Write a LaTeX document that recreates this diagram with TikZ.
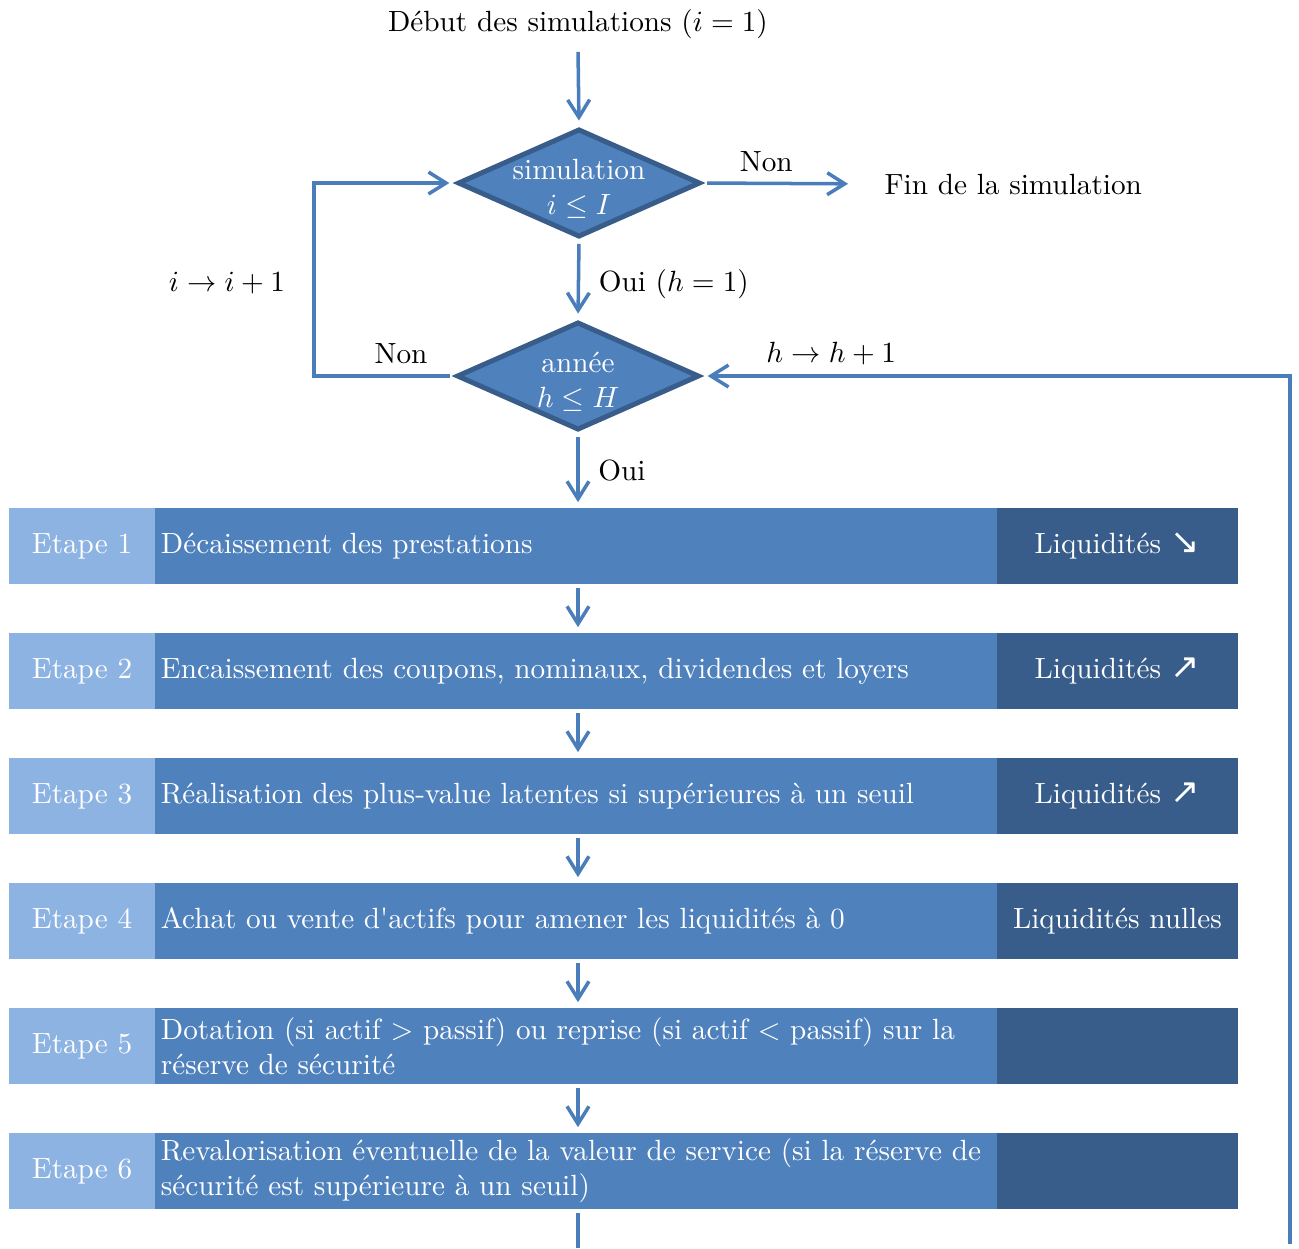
\documentclass[tikz,border=0pt]{standalone}
\usepackage{amssymb}
\usepackage{fontspec}
\newfontfamily\flechefont{DejaVu Sans}
\usetikzlibrary{shapes.geometric,arrows.meta}
\definecolor{etapebleu}{HTML}{8DB3E2}
\definecolor{corpsbleu}{HTML}{4F81BD}
\definecolor{foncebleu}{HTML}{385D8A}
\definecolor{lienbleu}{HTML}{4A7EBB}
\newcommand{\baisse}{{\flechefont\large ↘}}
\newcommand{\hausse}{{\flechefont\large ↗}}
\tikzset{
  lien/.style={draw=lienbleu,line width=1.2pt},
  fleche/.style={lien,-{Straight Barb[length=6pt,width=7.5pt,line width=1.2pt]},shorten <=1.5pt,shorten >=2pt},
  decision/.style={diamond,draw=foncebleu,fill=corpsbleu,line width=1.7pt,minimum width=83pt,minimum height=37pt,inner sep=0pt},
  dectexte/.style={text=white,align=center,yshift=-2pt},
  etape/.style={fill=etapebleu,text=white,minimum width=50pt,minimum height=26pt,inner sep=0pt,outer sep=0pt},
  corps/.style={fill=corpsbleu,text=white,minimum height=26pt,inner xsep=2pt,inner ysep=0pt,outer sep=0pt,text width=284pt,align=left,anchor=west},
  bilan/.style={fill=foncebleu,text=white,minimum width=82.2pt,minimum height=26pt,inner sep=0pt,outer sep=0pt,anchor=west},
}
\begin{document}
\begin{tikzpicture}[x=0.342pt,y=-0.342pt]
  \useasboundingbox (0,0) rectangle (1299,1248);
  % haut : les deux tests
  \node (debut) at (578,24) {D\'ebut des simulations ($i=1$)};
  \node[decision] (sim) at (579,183) {};
  \node[dectexte] at (sim) {simulation\\$i\leq I$};
  \node[decision] (an) at (578,376) {};
  \node[dectexte] at (an) {ann\'ee\\$h\leq H$};
  \node[anchor=west,inner sep=0pt] (fin) at (884,184) {Fin de la simulation};
  \coordinate (boucle) at (314,283);
  \coordinate (retour) at (1290,1248);
  \coordinate (sortie) at (578,1248);

  \draw[fleche,shorten <=1pt] (debut.south) -- (sim.north);
  \draw[fleche,shorten >=12.3pt] (sim.east) -- (fin.west) node[pos=0.35,above] {Non};
  \draw[fleche] (sim.south) -- (an.north) node[midway,right,xshift=3pt,yshift=-1.5pt] {Oui ($h=1$)};
  \draw[fleche] (an.west) -| (boucle) node[left,xshift=-6pt] {$i\rightarrow i+1$} |- (sim.west);
  \node at (401,354) {Non};
  \draw[fleche] (retour) |- (an.east) node[pos=0.89,above] {$h\rightarrow h+1$};

  % les six etapes
  \node[etape] (e1) at (82,546) {Etape 1};
  \node[corps] (c1) at (e1.east) {D\'ecaissement des prestations};
  \node[bilan] (b1) at (c1.east) {Liquidit\'es \baisse};
  \node[etape] (e2) at (82,671) {Etape 2};
  \node[corps] (c2) at (e2.east) {Encaissement des coupons, nominaux, dividendes et loyers};
  \node[bilan] (b2) at (c2.east) {Liquidit\'es \hausse};
  \node[etape] (e3) at (82,796) {Etape 3};
  \node[corps] (c3) at (e3.east) {R\'ealisation des plus-value latentes si sup\'erieures \`a un seuil};
  \node[bilan] (b3) at (c3.east) {Liquidit\'es \hausse};
  \node[etape] (e4) at (82,921) {Etape 4};
  \node[corps] (c4) at (e4.east) {Achat ou vente d\textquotesingle actifs pour amener les liquidit\'es \`a 0};
  \node[bilan] (b4) at (c4.east) {Liquidit\'es nulles};
  \node[etape] (e5) at (82,1046) {Etape 5};
  \node[corps] (c5) at (e5.east) {Dotation (si actif $>$ passif) ou reprise (si actif $<$ passif) sur la\\r\'eserve de s\'ecurit\'e};
  \node[bilan] (b5) at (c5.east) {};
  \node[etape] (e6) at (82,1171) {Etape 6};
  \node[corps] (c6) at (e6.east) {Revalorisation \'eventuelle de la valeur de service (si la r\'eserve de\\s\'ecurit\'e est sup\'erieure \`a un seuil)};
  \node[bilan] (b6) at (c6.east) {};

  \draw[fleche] (an.south) -- (c1.north -| an) node[midway,right,xshift=3pt] {Oui};
  \draw[fleche] (c1.south -| an) -- (c2.north -| an);
  \draw[fleche] (c2.south -| an) -- (c3.north -| an);
  \draw[fleche] (c3.south -| an) -- (c4.north -| an);
  \draw[fleche] (c4.south -| an) -- (c5.north -| an);
  \draw[fleche] (c5.south -| an) -- (c6.north -| an);
  \draw[lien,shorten <=1.5pt] (c6.south -| an) -- (sortie);
\end{tikzpicture}
\end{document}
